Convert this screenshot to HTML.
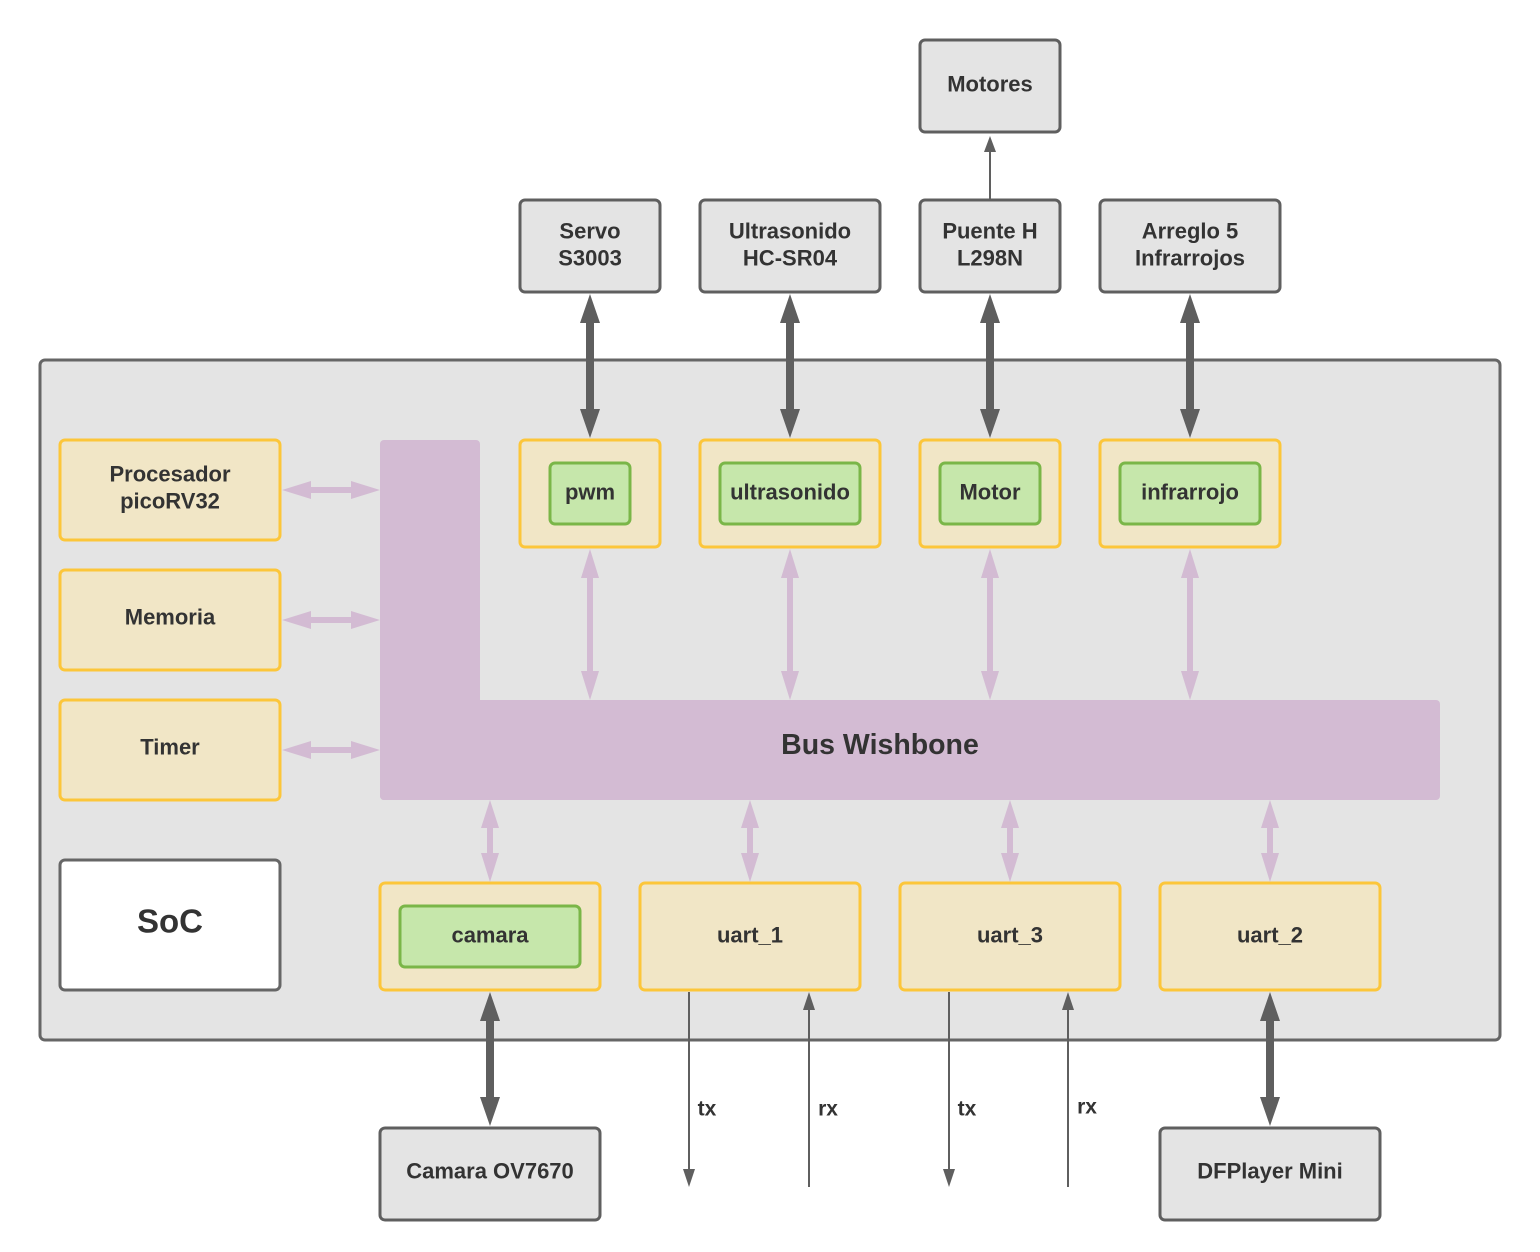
<!DOCTYPE html>
<html><head><meta charset="utf-8"><style>
html,body{margin:0;padding:0;background:#fff;}
svg{display:block;}
text{font-family:"Liberation Sans",sans-serif;font-weight:bold;fill:#333;text-anchor:middle;dominant-baseline:central;}
</style></head><body>
<svg width="1540" height="1252" viewBox="0 0 1540 1252" xmlns="http://www.w3.org/2000/svg">
<rect x="40" y="360" width="1460" height="680" rx="5" fill="#e4e4e4" stroke="#666" stroke-width="3"/>

<g fill="#e4e4e4" stroke="#5f5f5f" stroke-width="3">
<rect x="920" y="40" width="140" height="92" rx="5"/>
<rect x="520" y="200" width="140" height="92" rx="5"/>
<rect x="700" y="200" width="180" height="92" rx="5"/>
<rect x="920" y="200" width="140" height="92" rx="5"/>
<rect x="1100" y="200" width="180" height="92" rx="5"/>
<rect x="380" y="1128" width="220" height="92" rx="5"/>
<rect x="1160" y="1128" width="220" height="92" rx="5"/>
</g>
<g font-size="22">
<text x="990" y="84">Motores</text>
<text x="590" y="231">Servo</text><text x="590" y="258">S3003</text>
<text x="790" y="231">Ultrasonido</text><text x="790" y="258">HC-SR04</text>
<text x="990" y="231">Puente H</text><text x="990" y="258">L298N</text>
<text x="1190" y="231">Arreglo 5</text><text x="1190" y="258">Infrarrojos</text>
<text x="490" y="1171">Camara OV7670</text>
<text x="1270" y="1171">DFPlayer Mini</text>
</g>

<g fill="#d3bbd3">
<rect x="380" y="440" width="100" height="360" rx="4"/>
<rect x="380" y="700" width="1060" height="100" rx="4"/>
</g>
<text x="880" y="745" font-size="28.5">Bus Wishbone</text>

<g fill="#f1e6c6" stroke="#fcc63a" stroke-width="3">
<rect x="60" y="440" width="220" height="100" rx="5"/>
<rect x="60" y="570" width="220" height="100" rx="5"/>
<rect x="60" y="700" width="220" height="100" rx="5"/>
<rect x="520" y="440" width="140" height="107" rx="5"/>
<rect x="700" y="440" width="180" height="107" rx="5"/>
<rect x="920" y="440" width="140" height="107" rx="5"/>
<rect x="1100" y="440" width="180" height="107" rx="5"/>
<rect x="380" y="883" width="220" height="107" rx="5"/>
<rect x="640" y="883" width="220" height="107" rx="5"/>
<rect x="900" y="883" width="220" height="107" rx="5"/>
<rect x="1160" y="883" width="220" height="107" rx="5"/>
</g>
<g fill="#c6e7ab" stroke="#7ab648" stroke-width="3">
<rect x="550" y="463" width="80" height="61" rx="5"/>
<rect x="720" y="463" width="140" height="61" rx="5"/>
<rect x="940" y="463" width="100" height="61" rx="5"/>
<rect x="1120" y="463" width="140" height="61" rx="5"/>
<rect x="400" y="906" width="180" height="61" rx="5"/>
</g>
<rect x="60" y="860" width="220" height="130" rx="5" fill="#fff" stroke="#666" stroke-width="3"/>
<text x="170" y="921" font-size="33">SoC</text>
<g font-size="22">
<text x="170" y="474">Procesador</text><text x="170" y="501">picoRV32</text>
<text x="170" y="617">Memoria</text>
<text x="170" y="747">Timer</text>
<text x="590" y="492">pwm</text>
<text x="790" y="492">ultrasonido</text>
<text x="990" y="492">Motor</text>
<text x="1190" y="492">infrarrojo</text>
<text x="490" y="935">camara</text>
<text x="750" y="935">uart_1</text>
<text x="1010" y="935">uart_3</text>
<text x="1270" y="935">uart_2</text>
</g>

<g fill="#d3bbd3">
<path d="M282 490 L311 481 L311 487 L351 487 L351 481 L380 490 L351 499 L351 493 L311 493 L311 499 Z"/>
<path d="M282 620 L311 611 L311 617 L351 617 L351 611 L380 620 L351 629 L351 623 L311 623 L311 629 Z"/>
<path d="M282 750 L311 741 L311 747 L351 747 L351 741 L380 750 L351 759 L351 753 L311 753 L311 759 Z"/>
</g>
<g fill="#d3bbd3">
<path id="pv" d="M590 549 L599 578 L593 578 L593 671 L599 671 L590 700 L581 671 L587 671 L587 578 L581 578 Z"/>
<use href="#pv" x="200"/><use href="#pv" x="400"/><use href="#pv" x="600"/>
<path id="ps" d="M490 800 L499 828 L493 828 L493 853 L499 853 L490 882 L481 853 L487 853 L487 828 L481 828 Z"/>
<use href="#ps" x="260"/><use href="#ps" x="520"/><use href="#ps" x="780"/>
</g>

<g fill="#5f5f5f">
<path id="dv" d="M590 294 L600 323 L594 323 L594 409 L600 409 L590 438 L580 409 L586 409 L586 323 L580 323 Z"/>
<use href="#dv" x="200"/><use href="#dv" x="400"/><use href="#dv" x="600"/>
<path id="db" d="M490 992 L500 1021 L494 1021 L494 1097 L500 1097 L490 1126 L480 1097 L486 1097 L486 1021 L480 1021 Z"/>
<use href="#db" x="780"/>
</g>

<g stroke="#5f5f5f" stroke-width="2" fill="none">
<line x1="990" y1="200" x2="990" y2="150"/>
<line x1="689" y1="992" x2="689" y2="1172"/>
<line x1="809" y1="1187" x2="809" y2="1008"/>
<line x1="949" y1="992" x2="949" y2="1172"/>
<line x1="1068" y1="1187" x2="1068" y2="1008"/>
</g>
<g fill="#5f5f5f">
<path d="M990 136 L996 152 L984 152 Z"/>
<path d="M689 1187 L695 1169 L683 1169 Z"/>
<path d="M809 992 L815 1010 L803 1010 Z"/>
<path d="M949 1187 L955 1169 L943 1169 Z"/>
<path d="M1068 992 L1074 1010 L1062 1010 Z"/>
</g>
<g font-size="21">
<text x="707" y="1109">tx</text>
<text x="828" y="1109">rx</text>
<text x="967" y="1109">tx</text>
<text x="1087" y="1107">rx</text>
</g>
</svg>
</body></html>
